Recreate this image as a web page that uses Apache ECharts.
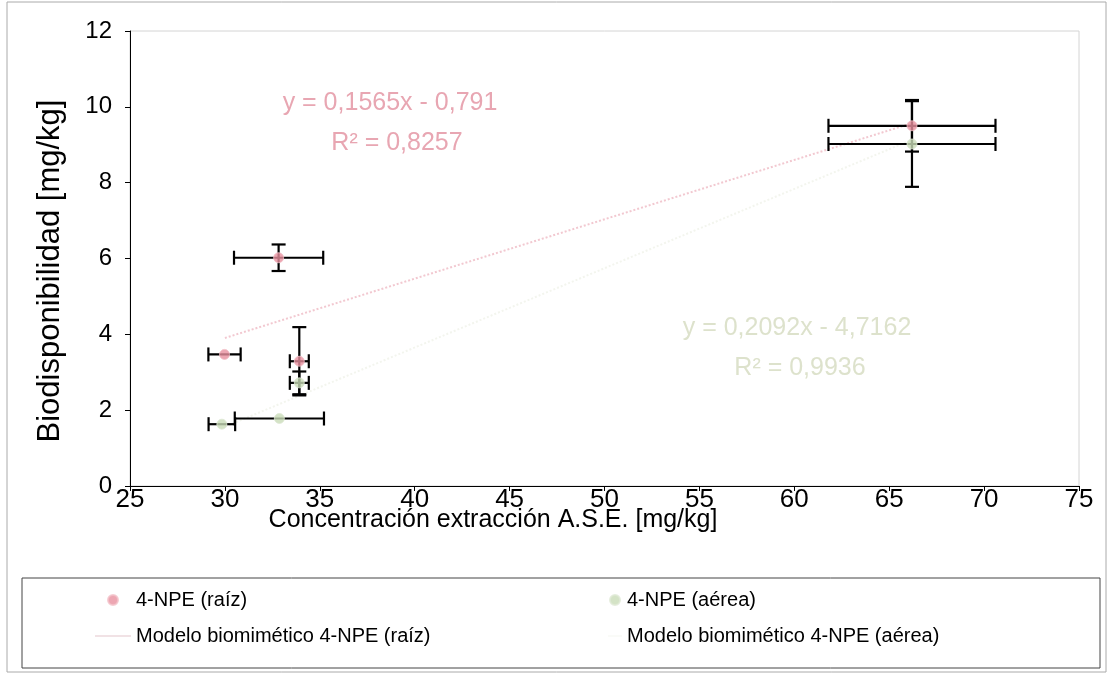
<!DOCTYPE html>
<html><head><meta charset="utf-8">
<script src="https://cdn.jsdelivr.net/npm/echarts@6/dist/echarts.min.js"></script>
<style>html,body{margin:0;padding:0;background:#fff}#c{width:1112px;height:677px}</style>
</head><body><div id="c"></div>
<script>
// ---- data ----
const xRaiz    = [29.98, 32.83, 33.92, 66.2];
const yRaiz    = [3.47, 6.02, 3.29, 9.5];
const xErrRaiz = [0.85, 2.35, 0.5, 4.4];
const yErrRaiz = [0, 0.35, 0.9, 0.68];

const xAerea    = [29.84, 32.87, 33.92, 66.2];
const yAerea    = [1.63, 1.78, 2.72, 9.02];
const xErrAerea = [0.7, 2.35, 0.5, 4.4];
const yErrAerea = [0, 0, 0.3, 1.13];

// trend lines (coefficients from the printed equations), drawn over x range
const trendRaiz  = {slope: 0.1565, intercept: -0.791};
const trendAerea = {slope: 0.2092, intercept: -4.7162};
const trendRange = [30, 66];

const xTicks = [25,30,35,40,45,50,55,60,65,70,75];
const yTicks = [0,2,4,6,8,10,12];

const names = {
  raiz: '4-NPE (raíz)',
  aerea: '4-NPE (aérea)',
  modRaiz: 'Modelo biomimético 4-NPE (raíz)',
  modAerea: 'Modelo biomimético 4-NPE (aérea)'
};
const xTitle = 'Concentración extracción A.S.E. [mg/kg]';
const yTitle = 'Biodisponibilidad [mg/kg]';
const eqRaiz  = ['y = 0,1565x - 0,791', 'R² = 0,8257'];
const eqAerea = ['y = 0,2092x - 4,7162', 'R² = 0,9936'];

// ---- build ----
const FONT = '"Liberation Sans", Arial, sans-serif';
const pink = '#e8909f', green = '#c9dcb8';
const zip2 = (a,b) => a.map((v,i)=>[v,b[i]]);
const zip4 = (a,b,c,d) => a.map((v,i)=>[v,b[i],c[i],d[i]]);
const trendPts = t => trendRange.map(x => [x, t.slope*x + t.intercept]);
const lineIcon = 'path://M0,0 L20,0 L20,1.2 L0,1.2 Z';

function errRender(params, api){
  const x=api.value(0), y=api.value(1), ex=api.value(2), ey=api.value(3);
  const st = {stroke:'#000', lineWidth:2.2};
  const ch = [];
  if (ex > 0){
    const l = api.coord([x-ex,y]), r = api.coord([x+ex,y]);
    ch.push({type:'line', shape:{x1:l[0],y1:l[1],x2:r[0],y2:r[1]}, style:st});
    ch.push({type:'line', shape:{x1:l[0],y1:l[1]-7,x2:l[0],y2:l[1]+7}, style:st});
    ch.push({type:'line', shape:{x1:r[0],y1:r[1]-7,x2:r[0],y2:r[1]+7}, style:st});
  }
  if (ey > 0){
    const t = api.coord([x,y+ey]), b = api.coord([x,y-ey]);
    ch.push({type:'line', shape:{x1:t[0],y1:t[1],x2:b[0],y2:b[1]}, style:st});
    ch.push({type:'line', shape:{x1:t[0]-7,y1:t[1],x2:t[0]+7,y2:t[1]}, style:st});
    ch.push({type:'line', shape:{x1:b[0]-7,y1:b[1],x2:b[0]+7,y2:b[1]}, style:st});
  }
  return {type:'group', children:ch};
}

const chart = echarts.init(document.getElementById('c'), null, {renderer:'canvas'});
chart.setOption({
  backgroundColor:'#fff',
  animation:false,
  textStyle:{fontFamily:FONT},
  grid:{left:130, right:33, top:31, bottom:191, show:true, borderColor:'#d4d4d4', borderWidth:1},
  xAxis:{
    type:'value', min:xTicks[0], max:xTicks[xTicks.length-1], interval:5,
    axisLine:{lineStyle:{color:'#000', width:1}},
    axisTick:{show:true, inside:false, length:5, lineStyle:{color:'#000'}},
    axisLabel:{fontSize:26, color:'#000', margin:1, fontFamily:FONT},
    splitLine:{show:false}
  },
  yAxis:{
    type:'value', min:yTicks[0], max:yTicks[yTicks.length-1], interval:2,
    axisLine:{show:true, lineStyle:{color:'#000', width:1}},
    axisTick:{show:true, inside:false, length:5, lineStyle:{color:'#000'}},
    axisLabel:{fontSize:24, color:'#000', margin:18, fontFamily:FONT},
    splitLine:{show:false}
  },
  legend:[
    {orient:'vertical', left:90, top:585, itemGap:16, itemWidth:36, itemHeight:10,
     data:[names.raiz, {name:names.modRaiz, icon:lineIcon, itemStyle:{color:'#f1e2e5'}}],
     textStyle:{fontSize:20, color:'#000', fontFamily:FONT}},
    {orient:'vertical', left:603, top:585, itemGap:16, itemWidth:14, itemHeight:10,
     data:[names.aerea, {name:names.modAerea, icon:lineIcon, itemStyle:{color:'#f4f6ef'}}],
     textStyle:{fontSize:20, color:'#000', fontFamily:FONT}}
  ],
  series:[
    {name:names.modRaiz, type:'line', data:trendPts(trendRaiz), symbol:'none',
     lineStyle:{color:'#f2c8d0', width:2, type:'dotted'}, itemStyle:{color:'#f2c8d0'}, z:1},
    {name:names.modAerea, type:'line', data:trendPts(trendAerea), symbol:'none',
     lineStyle:{color:'#f3f5ee', width:2, type:'dotted'}, itemStyle:{color:'#f3f5ee'}, z:1},
    {type:'custom', renderItem:errRender, data:zip4(xRaiz,yRaiz,xErrRaiz,yErrRaiz),
     encode:{x:0,y:1}, z:2, silent:true},
    {type:'custom', renderItem:errRender, data:zip4(xAerea,yAerea,xErrAerea,yErrAerea),
     encode:{x:0,y:1}, z:2, silent:true},
    {name:names.raiz, type:'scatter', data:zip2(xRaiz,yRaiz), symbol:'circle', symbolSize:10,
     itemStyle:{color:pink, borderColor:'#f3c0c8', borderWidth:1}, z:3},
    {name:names.aerea, type:'scatter', data:zip2(xAerea,yAerea), symbol:'circle', symbolSize:10,
     itemStyle:{color:green, borderColor:'#dfe9d5', borderWidth:1}, z:3}
  ],
  graphic:[
    {type:'rect', shape:{x:7,y:2,width:1099,height:670}, style:{fill:'none', stroke:'#aaaaaa', lineWidth:1}, silent:true},
    {type:'rect', shape:{x:22,y:578,width:1078,height:90}, style:{fill:'none', stroke:'#444', lineWidth:1}, silent:true},
    {type:'text', x:493, y:520, style:{text:xTitle, fontSize:25, fill:'#000', fontFamily:FONT, textAlign:'center', textVerticalAlign:'middle'}},
    {type:'text', x:50, y:271, rotation:Math.PI/2, style:{text:yTitle, fontSize:31, fill:'#000', fontFamily:FONT, textAlign:'center', textVerticalAlign:'middle'}},
    {type:'text', x:390, y:103, style:{text:eqRaiz[0], fontSize:25, fill:'#e8a6b2', fontFamily:FONT, textAlign:'center', textVerticalAlign:'middle'}},
    {type:'text', x:397, y:143, style:{text:eqRaiz[1], fontSize:25, fill:'#e8a6b2', fontFamily:FONT, textAlign:'center', textVerticalAlign:'middle'}},
    {type:'text', x:797, y:328, style:{text:eqAerea[0], fontSize:25, fill:'#dde2cc', fontFamily:FONT, textAlign:'center', textVerticalAlign:'middle'}},
    {type:'text', x:800, y:368, style:{text:eqAerea[1], fontSize:25, fill:'#dde2cc', fontFamily:FONT, textAlign:'center', textVerticalAlign:'middle'}}
  ]
});
</script></body></html>
